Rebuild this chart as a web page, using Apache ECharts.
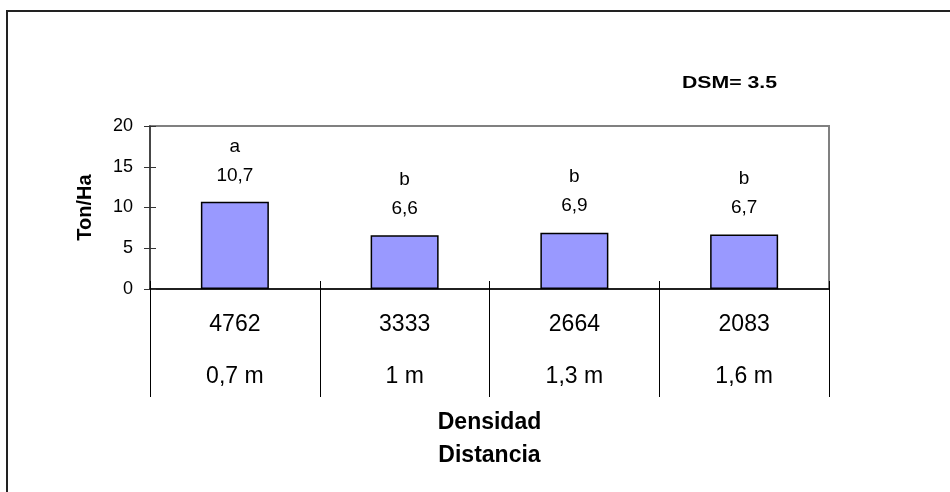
<!DOCTYPE html>
<html><head><meta charset="utf-8">
<script src="https://cdn.jsdelivr.net/npm/echarts@6/dist/echarts.min.js"></script>
<style>html,body{margin:0;padding:0;background:#fff}#c{width:950px;height:492px}</style>
</head><body><div id="c"></div>
<script>
var densidad = ['4762', '3333', '2664', '2083'];
var distancia = ['0,7 m', '1 m', '1,3 m', '1,6 m'];
var tonHa = [10.7, 6.6, 6.9, 6.7];
var letters = ['a', 'b', 'b', 'b'];
var yTicks = {min: 0, max: 20, interval: 5};
var categories = densidad.map(function (d, i) { return d + '\n' + distancia[i]; });
var FONT = '"Liberation Sans", Arial, sans-serif';

var chart = echarts.init(document.getElementById('c'), null, {renderer: 'canvas'});
chart.setOption({
  animation: false,
  textStyle: {fontFamily: FONT, color: '#000'},
  grid: {left: 150, right: 121, top: 126, bottom: 203, show: true, borderColor: '#808080', borderWidth: 2, backgroundColor: 'transparent'},
  graphic: [
    {type: 'rect', shape: {x: 7, y: 11, width: 1100, height: 800}, style: {fill: 'none', stroke: '#222', lineWidth: 2}, z: 0},
    {type: 'text', x: 682, y: 83, scaleX: 1.25, style: {text: 'DSM= 3.5', font: 'bold 17px ' + FONT, fill: '#000', textVerticalAlign: 'middle', verticalAlign: 'middle'}}
  ],
  xAxis: [{
    type: 'category', data: categories, position: 'bottom',
    axisLine: {lineStyle: {color: '#000', width: 1.5}},
    axisTick: {show: true, length: 108, lineStyle: {color: '#000', width: 1}},
    axisLabel: {fontSize: 23, lineHeight: 52, margin: 10, color: '#000', fontFamily: FONT},
    name: 'Densidad\nDistancia', nameLocation: 'middle', nameGap: 117,
    nameTextStyle: {fontSize: 23, fontWeight: 'bold', lineHeight: 33, color: '#000', fontFamily: FONT}
  }, {
    type: 'category', data: categories, position: 'bottom',
    axisLine: {show: false},
    axisTick: {show: true, inside: true, length: 8, lineStyle: {color: '#000', width: 1}},
    axisLabel: {show: false}
  }],
  yAxis: [{
    type: 'value', min: yTicks.min, max: yTicks.max, interval: yTicks.interval,
    axisLine: {show: true, lineStyle: {color: '#333', width: 1.5}},
    axisTick: {show: true, length: 6, lineStyle: {color: '#333'}},
    axisLabel: {fontSize: 18, margin: 17, color: '#000', fontFamily: FONT},
    splitLine: {show: false},
    name: 'Ton/Ha', nameLocation: 'middle', nameGap: 55,
    nameTextStyle: {fontSize: 20, fontWeight: 'bold', color: '#000', fontFamily: FONT}
  }, {
    type: 'value', min: yTicks.min, max: yTicks.max, interval: yTicks.interval, position: 'left',
    axisLine: {show: false},
    axisTick: {show: true, inside: true, length: 6, lineStyle: {color: '#333'}},
    axisLabel: {show: false},
    splitLine: {show: false}
  }],
  series: [{
    type: 'bar', data: tonHa, barWidth: 68, xAxisIndex: 0, yAxisIndex: 0,
    itemStyle: {color: '#9999FF', borderColor: '#000', borderWidth: 1.5},
    label: {
      show: true, position: 'top', distance: 12,
      formatter: function (p) { return letters[p.dataIndex] + '\n' + String(p.value).replace('.', ','); },
      fontSize: 19, lineHeight: 29, color: '#000', fontFamily: FONT
    }
  }]
});
</script></body></html>
